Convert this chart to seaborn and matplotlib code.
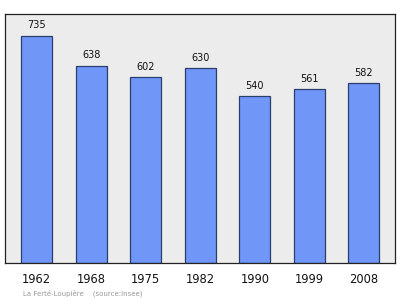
import matplotlib
matplotlib.use("Agg")
import matplotlib.pyplot as plt
import seaborn as sns
import pandas as pd

years = ["1962", "1968", "1975", "1982", "1990", "1999", "2008"]
population = [735, 638, 602, 630, 540, 561, 582]
source_text = "La Ferté-Loupière    (source:Insee)"

sns.set_style("white")
plt.rcParams['font.family'] = ['DejaVu Sans']

df = pd.DataFrame({"year": years, "pop": population})

fig = plt.figure(figsize=(4.0, 2.99), dpi=100)
ax = fig.add_axes([0.0125, 0.1204, 0.975, 0.8328])
ax.set_facecolor("#ececec")

sns.barplot(data=df, x="year", y="pop", ax=ax, color="#7097f8",
            saturation=1, width=0.57, edgecolor="#2b3d6b", linewidth=0.9)

for i, v in enumerate(population):
    ax.text(i, v + 17, str(v), ha="center", va="bottom", fontsize=7, color="#111111")

ax.set_xlim(-0.58, 6.57)
ax.set_ylim(0, 805)
ax.set_yticks([])
ax.set_xlabel("")
ax.set_ylabel("")
ax.tick_params(axis="x", length=0, pad=7, labelsize=8.3, labelcolor="#111111")
for s in ax.spines.values():
    s.set_visible(True)
    s.set_color("#222222")
    s.set_linewidth(0.9)

fig.text(23/400, 1 - 293/299, source_text, fontsize=5, color="#999999", ha="left", va="center")

fig.savefig("out.png", dpi=100, facecolor="white")
